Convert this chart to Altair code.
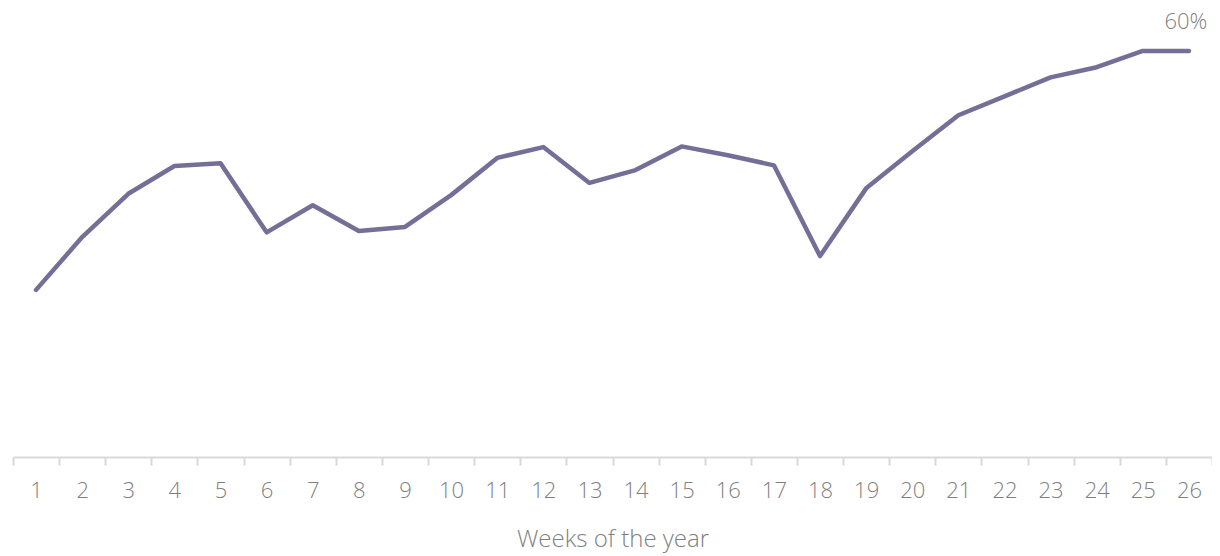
import altair as alt
import pandas as pd

weeks = [str(i) for i in range(1, 27)]
values = [24.7, 32.5, 38.9, 43.0, 43.4, 33.2, 37.2, 33.4, 34.0, 38.7,
          44.2, 45.8, 40.5, 42.4, 45.9, 44.6, 43.1, 29.7, 39.7, 45.2,
          50.5, 53.3, 56.1, 57.6, 60.0, 60.0]
label_text = ["" for _ in weeks]
label_text[-1] = "60%"

df = pd.DataFrame({"week": weeks, "value": values, "label": label_text})

FONT = "Open Sans"

x = alt.X("week:N", sort=weeks, title="Weeks of the year",
          scale=alt.Scale(type="band", paddingInner=0, paddingOuter=0),
          axis=alt.Axis(labelAngle=0, tickBand="extent", domainColor="#d9d9d9",
                        tickColor="#d9d9d9", tickSize=8, domainWidth=2, tickWidth=2,
                        labelFont=FONT, labelFontSize=22, labelFontWeight=300,
                        labelColor="#7f7f7f", labelPadding=15,
                        titleFont=FONT, titleFontSize=24, titleFontWeight=300,
                        titleColor="#7f7f7f", titlePadding=26))
y = alt.Y("value:Q", scale=alt.Scale(domain=[0, 64.58], nice=False, zero=True), axis=None)

line = alt.Chart(df).mark_line(color="#756f98", strokeWidth=4.5, strokeCap="round",
                               strokeJoin="round").encode(x=x, y=y)

text = alt.Chart(df).mark_text(font=FONT, fontSize=22, fontWeight=300, color="#7f7f7f",
                               dy=-29, dx=-3).encode(x=x, y=y, text="label:N")

chart = (line + text).properties(
    width=1199, height=437,
    autosize=alt.AutoSizeParams(type="none"),
    padding={"left": 5, "top": 12, "right": 0, "bottom": 100},
).configure_view(stroke=None)

chart.save("out.html", embed_options={"renderer": "svg", "actions": False})
